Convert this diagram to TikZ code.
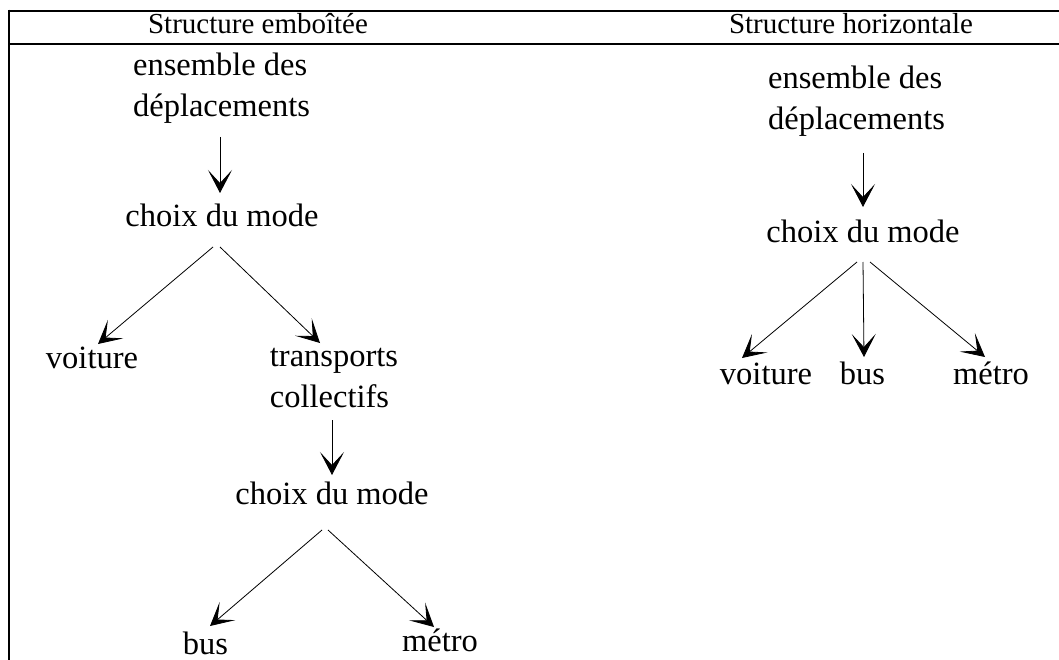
\documentclass[tikz,border=0pt]{standalone}
\usepackage{fontspec}
\setmainfont{Liberation Serif}
\usetikzlibrary{arrows.meta}
\newcommand\twolines[2]{\vtop{\baselineskip=41pt\hbox{#1}\hbox{#2}}}
\tikzset{
  lbl/.style={inner sep=0pt, outer sep=0pt, anchor=base, font=\fontsize{32.5pt}{41pt}\selectfont},
  head/.style={inner sep=0pt, outer sep=0pt, anchor=base, font=\fontsize{29pt}{35pt}\selectfont},
  frame/.style={line width=2.5pt},
  arr/.style={line width=0.8pt, -{Stealth[length=23pt,width=24pt,inset=13pt]}}
}
\begin{document}
\begin{tikzpicture}[x=1pt,y=-1pt]
\useasboundingbox (0,0) rectangle (1059,660);
% table frame
\draw[frame] (9,11) -- (1059,11);
\draw[frame] (9,44) -- (1059,44);
\draw[frame] (9,9.75) -- (9,660);
% headers
\node[head] (hL) at (258,34) {Structure emboîtée};
\node[head] (hR) at (851,34) {Structure horizontale};
% left column
\node[lbl] (ensL) at (221.5,76) {\twolines{ensemble des}{déplacements}};
\node[lbl] (choixL) at (222,227) {choix du mode};
\node[lbl] (voitL) at (92,368) {voiture};
\node[lbl] (transL) at (334,366) {\twolines{transports}{collectifs}};
\node[lbl] (choixLL) at (332,504) {choix du mode};
\node[lbl] (busL) at (205.5,654.5) {bus};
\node[lbl] (metroL) at (440,651) {métro};
% right column
\node[lbl] (ensR) at (856.5,89) {\twolines{ensemble des}{déplacements}};
\node[lbl] (choixR) at (863,243) {choix du mode};
\node[lbl] (voitR) at (766,384) {voiture};
\node[lbl] (busR) at (862.5,384) {bus};
\node[lbl] (metroR) at (991,384) {métro};
% left arrows
\draw[arr] ([xshift=-1.5pt,yshift=-61pt]ensL.base) -- ([xshift=-2pt,yshift=34pt]choixL.base);
\draw[arr] ([xshift=-9pt,yshift=-20pt]choixL.base) -- ([xshift=6pt,yshift=24pt]voitL.base);
\draw[arr] ([xshift=-2pt,yshift=-20pt]choixL.base) -- ([xshift=-14pt,yshift=23pt]transL.base);
\draw[arr] ([xshift=-2pt,yshift=-54pt]transL.base) -- ([yshift=29pt]choixLL.base);
\draw[arr] ([xshift=-10pt,yshift=-26pt]choixLL.base) -- ([xshift=4.5pt,yshift=28.5pt]busL.base);
\draw[arr] ([xshift=-4pt,yshift=-26pt]choixLL.base) -- ([xshift=-6pt,yshift=24pt]metroL.base);
% right arrows
\draw[arr] ([xshift=6.5pt,yshift=-64pt]ensR.base) -- ([yshift=36pt]choixR.base);
\draw[arr] ([xshift=-6pt,yshift=-19pt]choixR.base) -- ([xshift=-24pt,yshift=26pt]voitR.base);
\draw[arr] ([yshift=-19pt]choixR.base) -- ([xshift=1.5pt,yshift=27pt]busR.base);
\draw[arr] ([xshift=7pt,yshift=-19pt]choixR.base) -- ([xshift=-6pt,yshift=27pt]metroR.base);
\end{tikzpicture}
\end{document}
